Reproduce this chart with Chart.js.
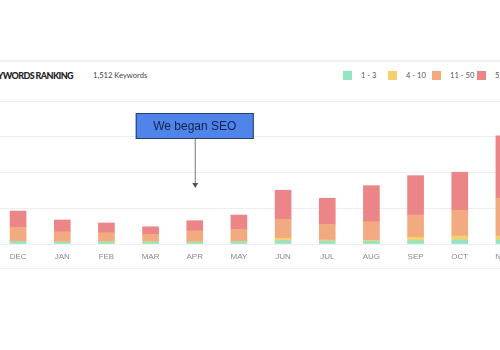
<!DOCTYPE html>
<html>
<head>
<meta charset="utf-8">
<script src="https://cdn.jsdelivr.net/npm/chart.js@4.4.1/dist/chart.umd.min.js"></script>
<style>
  html, body { margin: 0; padding: 0; width: 500px; height: 350px; overflow: hidden; background: #fff; }
  body { position: relative; font-family: "Lato", "Liberation Sans", sans-serif; }
  .rule { position: absolute; left: 0; width: 500px; background: #f1f1f1; }
  #title { position: absolute; right: 427px; top: 70px; white-space: nowrap; font-size: 9px; font-weight: 900; color: #222; letter-spacing: -0.6px; }
  #count { position: absolute; left: 93px; top: 70px; white-space: nowrap; font-size: 7.6px; color: #444; }
  .sw { position: absolute; top: 71px; width: 9px; height: 9px; }
  .lb { position: absolute; top: 70px; white-space: nowrap; font-size: 7.6px; color: #555; }
  #wrap { position: absolute; left: -14px; top: 91px; width: 550px; height: 177px; }
</style>
</head>
<body>
<div class="rule" style="top:60px;height:2px"></div>
<div class="rule" style="top:268px;height:1px"></div>
<div id="title">KEYWORDS RANKING</div>
<div id="count">1,512 Keywords</div>
<div id="legend"></div>
<div id="wrap"><canvas id="chart"></canvas></div>
<script>
  const months = ["DEC", "JAN", "FEB", "MAR", "APR", "MAY", "JUN", "JUL", "AUG", "SEP", "OCT", "NOV"];
  const rank1to3 = [32, 24, 28, 28, 24, 32, 46, 42, 38, 46, 56, 56];
  const rank4to10 = [7, 7, 7, 7, 7, 7, 34, 14, 14, 48, 56, 56];
  const rank11to50 = [194, 141, 123, 100, 155, 166, 266, 220, 260, 312, 360, 528];
  const rank51to100 = [228, 164, 136, 106, 140, 200, 406, 364, 504, 550, 532, 872];
  const seriesLabels = ["1 - 3", "4 - 10", "11 - 50", "51 - 100"];
  const seriesColors = ["#93e4c2", "#f5d06f", "#f2ab80", "#ec8588"];
  const yTicks = [0, 500, 1000, 1500, 2000];
  const noteText = "We began SEO";
  const noteMonth = "APR";

  // header legend, one item per series
  const legendX = [343, 388, 432, 477];
  document.getElementById("legend").innerHTML = seriesLabels.map((l, i) =>
    `<span class="sw" style="left:${legendX[i]}px;background:${seriesColors[i]}"></span>` +
    `<span class="lb" style="left:${legendX[i] + 18}px">${l}</span>`
  ).join("");

  const notePlugin = {
    id: "note",
    afterDatasetsDraw(chart) {
      const ctx = chart.ctx;
      const x = chart.scales.x.getPixelForValue(months.indexOf(noteMonth));
      const top = 22, w = 118, h = 26;
      ctx.save();
      ctx.fillStyle = "#4f84ea";
      ctx.strokeStyle = "#2b3c68";
      ctx.lineWidth = 1;
      ctx.fillRect(x - w / 2, top, w, h);
      ctx.strokeRect(x - w / 2 + 0.5, top + 0.5, w - 1, h - 1);
      ctx.fillStyle = "#16204a";
      ctx.font = '12px "Liberation Sans", Arial, sans-serif';
      ctx.textAlign = "center";
      ctx.textBaseline = "middle";
      ctx.fillText(noteText, x, top + h / 2 + 0.5);
      // arrow down to the APR bar
      ctx.strokeStyle = "#7a7a7a";
      ctx.beginPath();
      ctx.moveTo(x + 0.5, top + h);
      ctx.lineTo(x + 0.5, 94);
      ctx.stroke();
      ctx.fillStyle = "#555";
      ctx.beginPath();
      ctx.moveTo(x - 2.5, 92);
      ctx.lineTo(x + 3.5, 92);
      ctx.lineTo(x + 0.5, 97);
      ctx.closePath();
      ctx.fill();
      ctx.restore();
    }
  };

  const data = [rank1to3, rank4to10, rank11to50, rank51to100];
  new Chart(document.getElementById("chart"), {
    type: "bar",
    data: {
      labels: months,
      datasets: data.map((d, i) => ({
        label: seriesLabels[i],
        data: d,
        backgroundColor: seriesColors[i],
        borderWidth: 0,
        barThickness: 16
      }))
    },
    options: {
      responsive: true,
      maintainAspectRatio: false,
      animation: false,
      layout: { padding: { top: 10, left: 10, right: 10, bottom: 0 } },
      plugins: { legend: { display: false }, tooltip: { enabled: false } },
      scales: {
        x: {
          stacked: true,
          grid: { display: false, drawTicks: false },
          border: { display: false },
          ticks: { color: "#8a8a8a", padding: 8, font: { family: '"Liberation Sans", Arial, sans-serif', size: 8 } },
          afterFit(s) { s.height = 24; }
        },
        y: {
          stacked: true,
          min: yTicks[0],
          max: yTicks[yTicks.length - 1],
          afterBuildTicks(s) { s.ticks = yTicks.map((v) => ({ value: v })); },
          ticks: { display: false },
          grid: { color: "#eeeeee", drawTicks: false },
          border: { display: false },
          afterFit(s) { s.width = 0; }
        }
      }
    },
    plugins: [notePlugin]
  });
</script>
</body>
</html>
